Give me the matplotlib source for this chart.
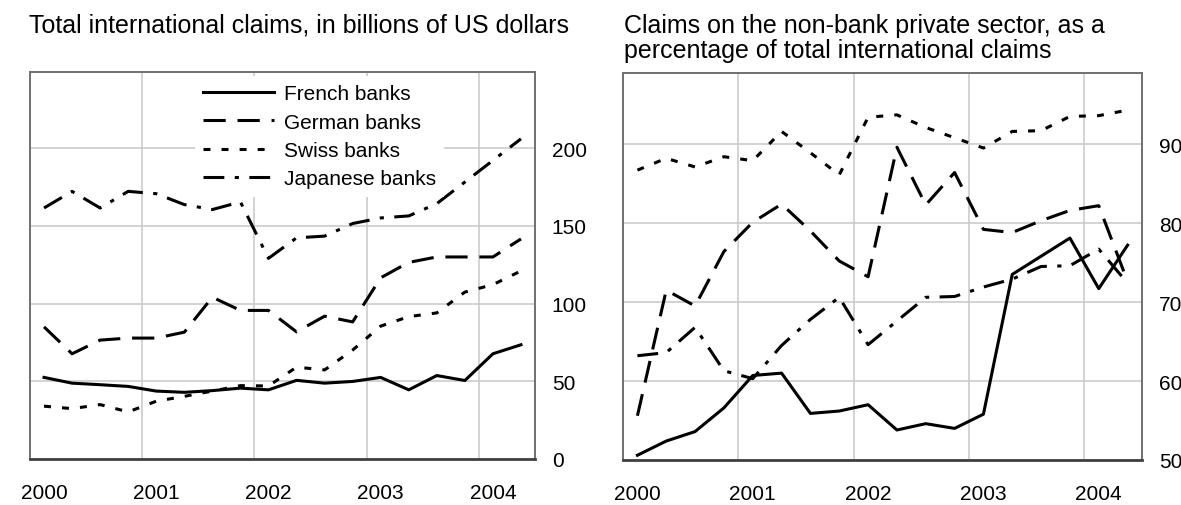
import matplotlib
matplotlib.use("Agg")
import matplotlib.pyplot as plt

plt.rcParams['font.family'] = ['Liberation Sans', 'DejaVu Sans']
plt.rcParams['lines.scale_dashes'] = False

# ---------------- data ----------------
quarters = list(range(18))  # 2000Q1 .. 2004Q2
year_labels = ['2000', '2001', '2002', '2003', '2004']
year_positions = [0, 4, 8, 12, 16]
series_names = ['French banks', 'German banks', 'Swiss banks', 'Japanese banks']

french_total = [52.5, 48.8, 47.8, 46.7, 43.7, 42.9, 44.0, 45.6, 44.5, 50.6,
                48.8, 49.9, 52.5, 44.5, 53.7, 50.5, 67.7, 73.5]
german_total = [85.0, 67.7, 76.5, 77.8, 77.8, 81.6, 104.1, 95.6, 95.6, 81.8,
                91.9, 88.2, 116.6, 126.5, 130.0, 130.0, 130.0, 141.6]
swiss_total = [34.0, 32.4, 35.0, 30.3, 37.2, 40.3, 43.7, 47.2, 47.0, 59.1,
               57.3, 70.1, 85.5, 91.6, 94.0, 107.4, 112.2, 121.0]
japanese_total = [161.5, 172.2, 161.5, 172.2, 170.7, 163.7, 160.5, 165.4, 129.1, 142.3,
                  143.4, 151.5, 155.1, 156.4, 164.3, 178.2, 192.1, 206.0]

french_share = [50.6, 52.4, 53.6, 56.6, 60.7, 61.0, 55.9, 56.2, 57.0, 53.8,
                54.6, 54.0, 55.8, 73.5, 75.8, 78.1, 71.7, 77.2]
german_share = [55.6, 71.5, 69.5, 76.4, 80.1, 82.4, 79.0, 75.2, 73.2, 89.6,
                82.3, 86.4, 79.2, 78.8, 80.3, 81.6, 82.2, 72.6]
swiss_share = [86.7, 88.2, 87.1, 88.4, 87.9, 91.6, 88.9, 86.1, 93.4, 93.7,
               92.1, 90.8, 89.5, 91.6, 91.7, 93.5, 93.6, 94.3]
japanese_share = [63.2, 63.6, 66.8, 61.3, 60.3, 64.5, 67.8, 70.6, 64.6, 67.6,
                  70.6, 70.7, 71.9, 72.9, 74.5, 74.6, 76.7, 72.4]

left_ticks = [0, 50, 100, 150, 200]
right_ticks = [50, 60, 70, 80, 90]

# ---------------- styles ----------------
LW = 2.2
styles = [
    dict(linestyle='-'),
    dict(linestyle=(0, (16, 8.5))),
    dict(linestyle=(0, (5, 8))),
    dict(linestyle=(0, (15, 7.5, 3, 7.5))),
]

fig = plt.figure(figsize=(11.81, 5.06), dpi=100)
W, H = 1181, 506

def make_ax(x0, x1, y0, y1):
    return fig.add_axes([x0 / W, 1 - y1 / H, (x1 - x0) / W, (y1 - y0) / H])

ax1 = make_ax(30, 535, 73, 460)
ax2 = make_ax(623, 1142, 74, 461)

def style_axis(ax, yticks, ylim):
    ax.set_xlim(-0.5, 17.5)
    ax.set_ylim(*ylim)
    ax.set_yticks(yticks)
    ax.set_yticklabels([str(t) for t in yticks])
    ax.yaxis.tick_right()
    ax.set_xticks(year_positions)
    ax.set_xticklabels(year_labels)
    ax.set_xticks([3.5, 7.5, 11.5, 15.5], minor=True)
    ax.tick_params(axis='both', which='both', length=0, labelsize=15)
    ax.tick_params(axis='x', which='major', pad=17)
    ax.tick_params(axis='y', which='major', pad=12)
    ax.grid(True, axis='y', which='major', color='#c8c8c8', lw=1.1)
    ax.grid(True, axis='x', which='minor', color='#c8c8c8', lw=1.1)
    ax.grid(False, axis='x', which='major')
    ax.set_axisbelow(True)
    for s in ['top', 'left', 'right']:
        ax.spines[s].set_color('#707070')
        ax.spines[s].set_linewidth(1.4)
    ax.spines['bottom'].set_color('#404040')
    ax.spines['bottom'].set_linewidth(2.0)

style_axis(ax1, left_ticks, (0, 249))
style_axis(ax2, right_ticks, (50, 99))

left_data = [french_total, german_total, swiss_total, japanese_total]
right_data = [french_share, german_share, swiss_share, japanese_share]

for name, vals, st in zip(series_names, left_data, styles):
    ax1.plot(quarters, vals, color='black', lw=LW, label=name, **st)
for name, vals, st in zip(series_names, right_data, styles):
    ax2.plot(quarters, vals, color='black', lw=LW, label=name, **st)

leg = ax1.legend(loc='upper left', bbox_to_anchor=((195 - 30) / 505, (460 - 77) / 387),
                 borderaxespad=0, borderpad=0.4, fontsize=15, handlelength=3.4,
                 handletextpad=0.45, labelspacing=0.45, frameon=True, fancybox=False)
leg.get_frame().set_facecolor('white')
leg.get_frame().set_edgecolor('none')
leg.get_frame().set_alpha(1.0)

fig.text(29 / W, 1 - 25 / H, 'Total international claims, in billions of US dollars',
         fontsize=18, ha='left', va='center')
fig.text(624 / W, 1 - 38.5 / H,
         'Claims on the non-bank private sector, as a\npercentage of total international claims',
         fontsize=18, ha='left', va='center', linespacing=1.1)

fig.savefig('out.png', dpi=100, facecolor='white')
